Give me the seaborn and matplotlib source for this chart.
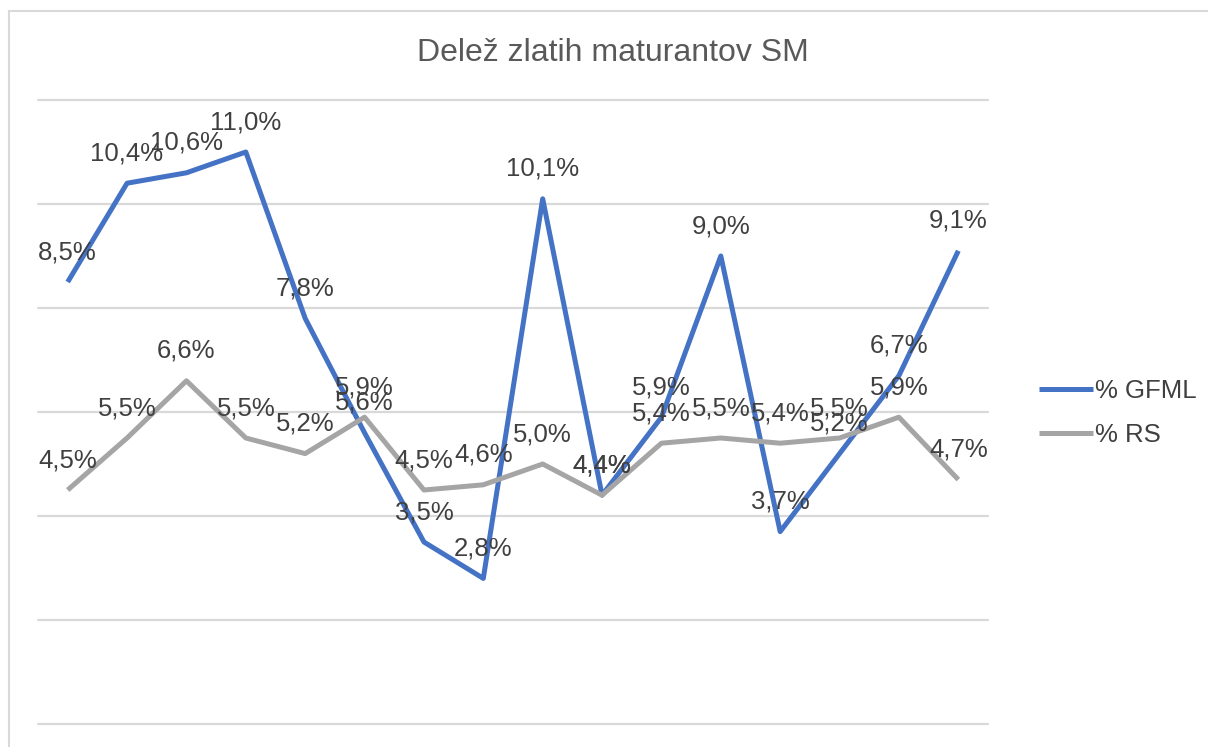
import numpy as np
import pandas as pd
import matplotlib
matplotlib.use("Agg")
import matplotlib.pyplot as plt
import seaborn as sns
from matplotlib.patches import Rectangle

# Data (values in %)
positions = list(range(16))
gfml = [8.5, 10.4, 10.6, 11.0, 7.8, 5.6, 3.5, 2.8, 10.1, 4.4, 5.9, 9.0, 3.7, 5.2, 6.7, 9.1]
rs = [4.5, 5.5, 6.6, 5.5, 5.2, 5.9, 4.5, 4.6, 5.0, 4.4, 5.4, 5.5, 5.4, 5.5, 5.9, 4.7]
series_names = ["% GFML", "% RS"]
colors = {"% GFML": "#4472C4", "% RS": "#A5A5A5"}

TITLE = "Delež zlatih maturantov SM"
LABEL_COLOR = "#404040"
TITLE_COLOR = "#595959"
GRID_COLOR = "#D9D9D9"

W, H = 1208, 747

# Long-form table for seaborn
df = pd.DataFrame({
    "pos": positions * 2,
    "value": gfml + rs,
    "series": [series_names[0]] * len(gfml) + [series_names[1]] * len(rs),
})

sns.set_style("white")
plt.rcParams["font.family"] = ["Liberation Sans", "DejaVu Sans"]

fig = plt.figure(figsize=(W / 100, H / 100), dpi=100)
ax = fig.add_axes([38 / W, 1 - 724 / H, (988 - 38) / W, (724 - 100) / H])

sns.lineplot(data=df, x="pos", y="value", hue="series", hue_order=series_names,
             palette=colors, linewidth=3.6, ax=ax, legend=True,
             solid_capstyle="butt")

ax.set_xlim(-0.5, 15.5)
ax.set_ylim(0, 12)
ax.set_yticks(np.arange(0, 13, 2))
ax.set_xticks([])
ax.set_yticklabels([])
ax.tick_params(left=False, bottom=False)
ax.yaxis.grid(True, color=GRID_COLOR, linewidth=1.6)
for gl in ax.get_ygridlines():
    gl.set_clip_on(False)
ax.set_axisbelow(True)
for s in ax.spines.values():
    s.set_visible(False)
ax.set_xlabel("")
ax.set_ylabel("")

# data labels above each point
for vals in (gfml, rs):
    for i, v in zip(positions, vals):
        ax.annotate(f"{v:.1f}%".replace(".", ","), (i, v), xytext=(0, 16.5),
                    textcoords="offset points", ha="center", va="baseline",
                    fontsize=18.5, color=LABEL_COLOR, annotation_clip=False)

# legend on the right
handles, labels = ax.get_legend_handles_labels()
ax.get_legend().remove()
fig.legend(handles, labels, loc="center left",
           bbox_to_anchor=(1026 / W, 1 - 413 / H), frameon=False,
           fontsize=18.5, handlelength=2.1, handletextpad=0.1,
           labelspacing=0.75, borderpad=0, labelcolor=LABEL_COLOR)

fig.text(613 / W, 1 - 61 / H, TITLE, ha="center", va="baseline",
         fontsize=23, color=TITLE_COLOR)

# chart frame (only left and top edges are visible in the crop)
fig.patches.append(Rectangle((9 / W, -0.5), 2, 1.5 - 11 / H,
                             transform=fig.transFigure, fill=False,
                             edgecolor=GRID_COLOR, linewidth=1.5))

fig.savefig("out.png", dpi=100)
